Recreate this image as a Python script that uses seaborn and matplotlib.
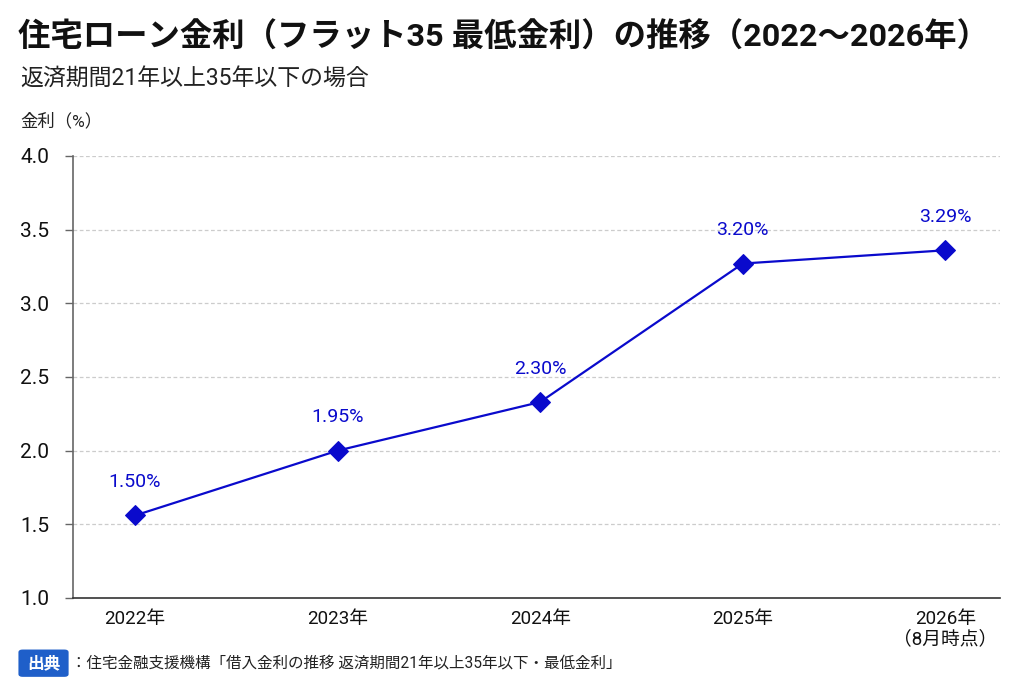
import matplotlib
matplotlib.use("Agg")
import matplotlib.pyplot as plt
from matplotlib.patches import FancyBboxPatch
import seaborn as sns
import pandas as pd

sns.set_theme(style="white")
plt.rcParams['font.family'] = ['Roboto', 'Noto Sans CJK JP', 'DejaVu Sans']

# data
years = ["2022", "2023", "2024", "2025", "2026"]
rate_points = [1.56, 2.00, 2.33, 3.27, 3.36]   # marker heights as drawn
rate_labels = ["1.50%", "1.95%", "2.30%", "3.20%", "3.29%"]
tick_labels = ["2022年", "2023年", "2024年", "2025年", "2026年\n（8月時点）"]
y_ticks = [1.0, 1.5, 2.0, 2.5, 3.0, 3.5, 4.0]

TITLE = "住宅ローン金利（フラット35 最低金利）の推移（2022～2026年）"
SUBTITLE = "返済期間21年以上35年以下の場合"
YLABEL = "金利（%）"
SOURCE = "：住宅金融支援機構「借入金利の推移 返済期間21年以上35年以下・最低金利」"

BLUE = "#0a0acc"

df = pd.DataFrame({"year": years, "rate": rate_points})

fig = plt.figure(figsize=(10.24, 6.83), dpi=100)
ax = fig.add_axes([0.0713, 0.1245, 0.9053, 0.6471])

sns.lineplot(data=df, x="year", y="rate", ax=ax, color=BLUE, linewidth=1.6,
             marker="D", markersize=10, markeredgecolor=BLUE, sort=False)

for i, (v, lab) in enumerate(zip(rate_points, rate_labels)):
    ax.annotate(lab, (i, v), xytext=(0, 24), textcoords="offset points",
                ha="center", va="center", color=BLUE, fontsize=14)

ax.set_xlim(-0.306, 4.27)
ax.set_ylim(1.0, 4.0)
ax.set_yticks(y_ticks)
ax.set_yticklabels([f"{t:.1f}" for t in y_ticks])
ax.set_xticks(range(len(years)))
ax.set_xticklabels(tick_labels, va="top", linespacing=1.15)
ax.tick_params(axis="y", left=True, length=6, width=1, color="#666666",
               labelsize=15, labelcolor="#111111", pad=11)
ax.tick_params(axis="x", bottom=False, labelsize=13.5, labelcolor="#111111", pad=3)
ax.set_xlabel("")
ax.set_ylabel("")

for t in y_ticks[1:]:
    ax.axhline(t, color="#cccccc", linestyle=(0, (3, 2)), linewidth=0.9, zorder=0)

for s in ["top", "right"]:
    ax.spines[s].set_visible(False)
ax.spines["left"].set_color("#666666")
ax.spines["left"].set_linewidth(1.2)
ax.spines["bottom"].set_color("#333333")
ax.spines["bottom"].set_linewidth(1.2)

fig.text(0.018, 0.946, TITLE, fontsize=23.3, fontweight="bold", color="#111111",
         ha="left", va="center")
fig.text(0.020, 0.886, SUBTITLE, fontsize=16.5, color="#222222", ha="left", va="center")
fig.text(0.020, 0.823, YLABEL, fontsize=12.5, color="#222222", ha="left", va="center")

# source box
box = FancyBboxPatch((0.018, 0.009), 0.049, 0.040, boxstyle="round,pad=0,rounding_size=0.004",
                     transform=fig.transFigure, facecolor="#1f5fc9", edgecolor="none")
fig.patches.append(box)
fig.text(0.0425, 0.029, "出典", fontsize=12, fontweight="bold", color="white",
         ha="center", va="center")
fig.text(0.069, 0.029, SOURCE, fontsize=11.2, color="#222222", ha="left", va="center")

fig.savefig("out.png", dpi=100, facecolor="white")
